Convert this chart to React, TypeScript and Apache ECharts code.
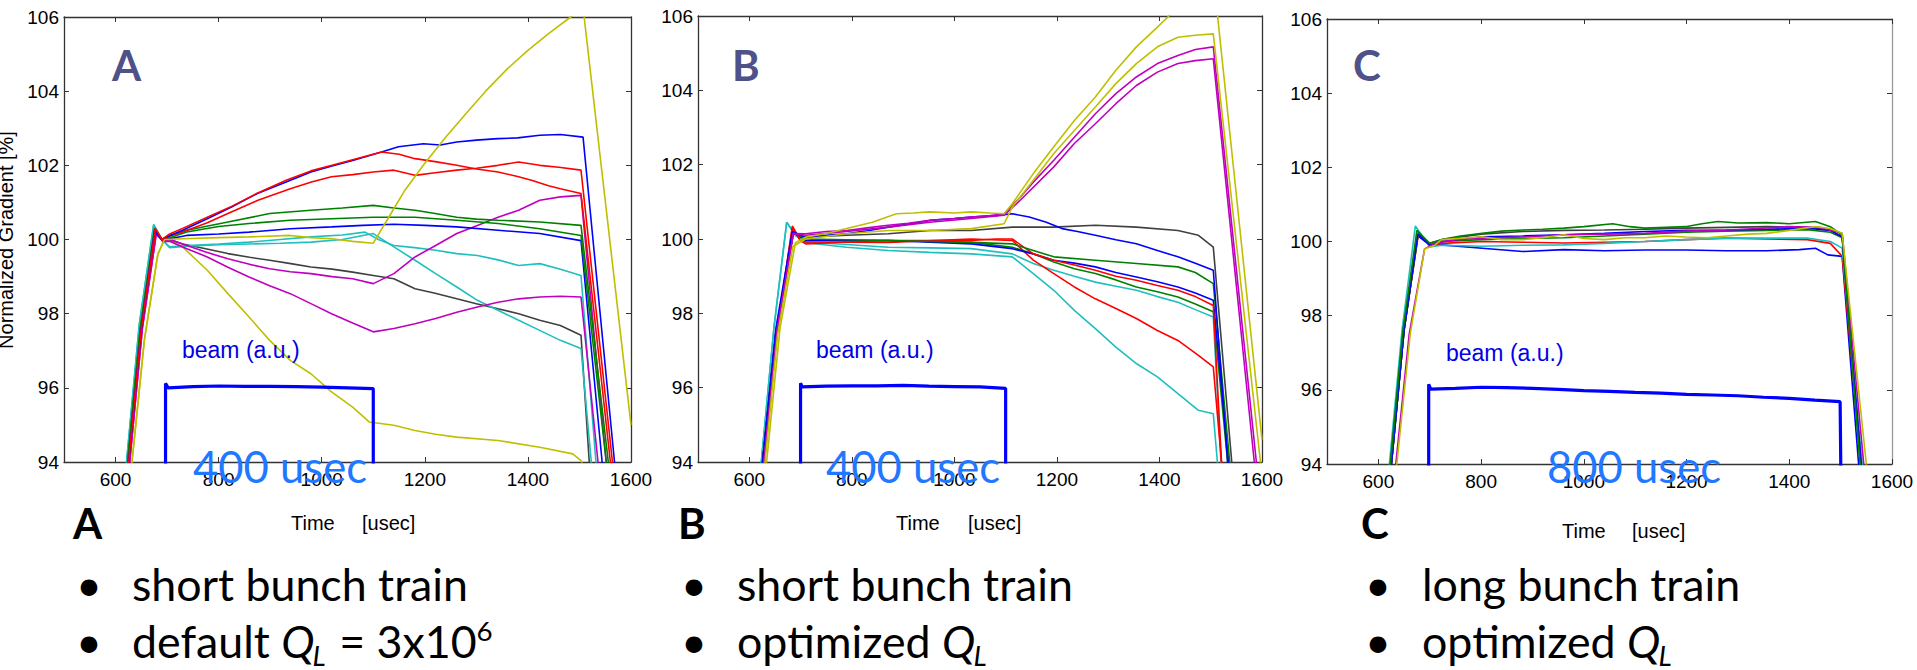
import React, { useEffect, useRef } from 'react';
import * as echarts from 'echarts';

// ---------- ticks ----------
const X_TICKS = [600, 800, 1000, 1200, 1400, 1600];
const Y_MIN = 94;
const Y_MAX = 106;

// ---------- colours ----------
const BLUE = '#0000ff';
const RED = '#ff0000';
const GREEN = '#008000';
const CYAN = '#1fbfbf';
const MAGENTA = '#bf00bf';
const YELLOW = '#bfbf00';
const GRAY = '#404040';

// ---------- panel A : short bunch train, default QL ----------
const A_blue1 = [[620,93.2],[650,97.6],[676,100.25],[690,100.0],[705,100.1],[730,100.25],[778,100.56],[826,100.88],[875,101.24],[931,101.55],[979,101.82],[1020,101.98],[1060,102.13],[1116,102.36],[1149,102.5],[1197,102.58],[1230,102.55],[1262,102.63],[1300,102.68],[1342,102.72],[1380,102.74],[1423,102.81],[1463,102.83],[1507,102.76],[1568,94],[1575,93]];
const A_red1 = [[620,93.2],[650,97.6],[677,100.3],[690,100.0],[705,100.15],[730,100.3],[778,100.6],[826,100.9],[875,101.25],[931,101.6],[979,101.85],[1020,102.0],[1060,102.15],[1116,102.36],[1150,102.3],[1181,102.18],[1220,102.1],[1262,102.0],[1300,101.9],[1342,101.82],[1380,101.7],[1407,101.6],[1440,101.45],[1463,101.37],[1503,101.24],[1560,94],[1568,93]];
const A_red2 = [[620,93.2],[650,97.6],[678,100.25],[692,99.95],[705,100.1],[730,100.2],[778,100.45],[818,100.7],[875,101.05],[939,101.37],[980,101.55],[1019,101.69],[1060,101.75],[1100,101.82],[1140,101.87],[1181,101.73],[1220,101.8],[1262,101.87],[1300,101.92],[1342,102.0],[1382,102.09],[1423,102.0],[1460,101.95],[1503,101.87],[1564,94],[1572,93]];
const A_green1 = [[618,93.2],[648,97.6],[676,100.3],[690,100.0],[705,100.1],[738,100.25],[818,100.47],[899,100.7],[979,100.79],[1040,100.85],[1100,100.92],[1140,100.85],[1181,100.79],[1220,100.7],[1262,100.6],[1300,100.55],[1342,100.52],[1423,100.47],[1503,100.38],[1556,94],[1563,93]];
const A_green2 = [[618,93.2],[648,97.6],[676,100.3],[690,100.0],[705,100.05],[738,100.2],[800,100.35],[859,100.43],[939,100.52],[1019,100.56],[1100,100.6],[1181,100.6],[1262,100.52],[1342,100.43],[1423,100.29],[1503,100.11],[1552,94],[1560,93]];
const A_blue2 = [[620,93.2],[650,97.6],[677,100.2],[690,100.0],[705,100.02],[738,100.11],[800,100.15],[859,100.2],[939,100.29],[1019,100.34],[1080,100.38],[1140,100.41],[1200,100.38],[1262,100.34],[1342,100.25],[1423,100.16],[1503,99.97],[1544,94],[1552,93]];
const A_cyan1 = [[616,93.2],[646,97.7],[674,100.4],[690,100.0],[705,99.8],[738,99.84],[800,99.88],[859,99.93],[920,100.0],[979,100.07],[1040,100.12],[1084,100.2],[1110,100.0],[1140,99.84],[1180,99.78],[1221,99.71],[1262,99.62],[1302,99.57],[1342,99.45],[1382,99.3],[1423,99.35],[1463,99.2],[1503,99.03],[1532,94],[1540,93]];
const A_cyan2 = [[616,93.2],[646,97.7],[674,100.4],[690,100.0],[705,99.78],[738,99.82],[800,99.86],[859,99.88],[920,99.9],[979,99.93],[1040,100.0],[1100,100.16],[1140,99.8],[1181,99.44],[1221,99.08],[1262,98.72],[1302,98.36],[1342,98.09],[1382,97.82],[1423,97.55],[1463,97.28],[1503,97.06],[1523,94],[1530,93]];
const A_gray = [[620,93.2],[650,97.6],[677,100.2],[690,100.0],[705,100.0],[730,99.88],[775,99.75],[818,99.62],[860,99.52],[899,99.44],[940,99.35],[979,99.26],[1020,99.2],[1060,99.12],[1100,99.03],[1140,98.94],[1181,98.67],[1220,98.55],[1262,98.4],[1300,98.27],[1342,98.13],[1382,98.0],[1423,97.82],[1463,97.68],[1503,97.42],[1519,94],[1526,93]];
const A_mag1 = [[622,93.2],[652,97.6],[679,100.15],[692,99.95],[705,100.0],[730,99.88],[775,99.66],[818,99.48],[860,99.33],[899,99.21],[939,99.13],[979,99.08],[1020,99.0],[1060,98.94],[1100,98.81],[1140,99.08],[1181,99.53],[1221,99.84],[1262,100.16],[1302,100.38],[1342,100.6],[1382,100.79],[1423,101.06],[1463,101.15],[1503,101.19],[1552,94],[1560,93]];
const A_mag2 = [[622,93.2],[652,97.6],[679,100.15],[692,99.95],[705,99.95],[730,99.8],[778,99.53],[818,99.25],[859,98.99],[899,98.75],[939,98.54],[979,98.27],[1019,98.0],[1060,97.75],[1100,97.51],[1140,97.6],[1181,97.73],[1221,97.87],[1262,98.04],[1302,98.18],[1342,98.31],[1382,98.4],[1423,98.45],[1463,98.47],[1503,98.45],[1536,94],[1543,93]];
const A_yel1 = [[626,93.2],[656,97.3],[682,99.6],[695,100.0],[730,100.02],[800,100.05],[859,100.07],[939,100.11],[979,100.05],[1019,100.02],[1060,99.95],[1100,99.9],[1130,100.6],[1160,101.3],[1197,102.0],[1240,102.75],[1280,103.4],[1318,104.0],[1360,104.6],[1400,105.1],[1440,105.55],[1483,106.0],[1507,106.25],[1600,95.0]];
const A_yel2 = [[626,93.2],[656,97.3],[682,99.6],[695,100.0],[710,99.95],[730,99.8],[778,99.17],[818,98.54],[859,97.91],[899,97.28],[939,96.74],[979,96.38],[1019,95.89],[1060,95.48],[1092,95.08],[1140,94.99],[1181,94.85],[1221,94.75],[1262,94.67],[1342,94.58],[1423,94.4],[1487,94.22],[1503,94.04],[1520,93.5]];
const A_beam = [[697,93],[697,96.12],[702,96.0],[750,96.03],[800,96.05],[850,96.04],[900,96.04],[950,96.03],[1000,96.02],[1050,96.0],[1100,95.98],[1100,93]];

// ---------- panel B : short bunch train, optimized QL ----------
const B_yel1 = [[628,93.2],[660,97.6],[690,99.9],[710,100.05],[750,100.15],[790,100.28],[840,100.45],[887,100.68],[920,100.7],[952,100.73],[1000,100.7],[1033,100.73],[1070,100.7],[1097,100.68],[1113,100.95],[1154,101.76],[1194,102.48],[1234,103.19],[1275,103.82],[1315,104.54],[1355,105.17],[1396,105.7],[1420,106.02],[1460,106.6],[1505,107.1],[1600,94.6]];
const B_yel2 = [[625,93.2],[655,97.4],[685,99.8],[710,100.0],[790,100.14],[871,100.23],[952,100.23],[1033,100.28],[1097,100.41],[1113,100.86],[1154,101.58],[1194,102.3],[1234,102.92],[1275,103.55],[1315,104.18],[1355,104.72],[1396,105.17],[1436,105.43],[1470,105.48],[1505,105.52],[1597,94.0],[1605,93]];
const B_mag1 = [[622,93.1],[655,97.6],[686,100.15],[710,100.14],[750,100.2],[790,100.23],[830,100.3],[871,100.37],[910,100.42],[952,100.5],[1000,100.55],[1033,100.59],[1070,100.63],[1097,100.68],[1129,101.13],[1154,101.53],[1194,102.12],[1234,102.74],[1275,103.37],[1315,103.91],[1355,104.36],[1396,104.72],[1436,104.94],[1470,105.1],[1505,105.17],[1589,94],[1597,93]];
const B_mag2 = [[622,93.1],[655,97.6],[686,100.15],[710,100.1],[790,100.2],[871,100.32],[952,100.45],[1033,100.55],[1097,100.64],[1129,101.05],[1194,101.94],[1234,102.57],[1275,103.1],[1315,103.64],[1355,104.13],[1396,104.49],[1436,104.72],[1470,104.8],[1505,104.85],[1585,94],[1593,93]];
const B_blue1 = [[620,93.2],[652,97.6],[684,100.2],[710,100.05],[750,100.1],[790,100.14],[830,100.22],[871,100.32],[910,100.4],[952,100.5],[1000,100.55],[1033,100.59],[1080,100.63],[1113,100.68],[1146,100.59],[1178,100.46],[1210,100.28],[1240,100.2],[1275,100.1],[1315,99.98],[1355,99.87],[1396,99.69],[1436,99.52],[1470,99.35],[1505,99.16],[1533,94],[1540,93]];
const B_gray = [[620,93.2],[652,97.5],[686,100.15],[710,100.05],[790,100.1],[871,100.14],[952,100.23],[1033,100.23],[1113,100.32],[1194,100.32],[1275,100.37],[1355,100.32],[1436,100.23],[1476,100.1],[1505,99.78],[1541,94],[1548,93]];
const B_green1 = [[620,93.2],[652,97.5],[686,100.2],[710,100.0],[871,99.96],[1033,99.91],[1113,99.87],[1154,99.69],[1194,99.52],[1275,99.43],[1355,99.34],[1436,99.25],[1470,99.1],[1505,98.8],[1537,94],[1544,93]];
const B_green2 = [[620,93.2],[652,97.5],[686,100.2],[710,99.96],[871,99.96],[1033,99.91],[1113,99.78],[1154,99.6],[1194,99.38],[1234,99.2],[1275,99.07],[1315,98.9],[1355,98.71],[1396,98.58],[1436,98.44],[1470,98.25],[1505,98.04],[1533,94],[1540,93]];
const B_blue2 = [[620,93.2],[652,97.5],[686,100.2],[710,99.96],[871,99.96],[1033,99.87],[1113,99.74],[1154,99.6],[1194,99.43],[1234,99.35],[1275,99.25],[1315,99.1],[1355,98.98],[1396,98.85],[1436,98.71],[1470,98.55],[1505,98.35],[1535,94],[1542,93]];
const B_red1 = [[622,93.1],[655,97.6],[684,100.35],[700,99.95],[710,99.87],[790,99.92],[871,99.96],[952,99.96],[1033,99.96],[1080,100.0],[1113,100.0],[1154,99.6],[1194,99.43],[1234,99.3],[1275,99.16],[1315,99.0],[1355,98.89],[1396,98.75],[1436,98.62],[1470,98.45],[1505,98.21],[1521,94],[1528,93]];
const B_red2 = [[622,93.1],[655,97.6],[684,100.3],[700,99.95],[710,99.92],[871,99.91],[1033,100.0],[1113,99.96],[1154,99.43],[1194,99.07],[1234,98.71],[1275,98.39],[1315,98.13],[1355,97.86],[1396,97.54],[1436,97.27],[1476,96.87],[1505,96.56],[1521,94],[1528,93]];
const B_cyan1 = [[618,93.2],[648,97.6],[673,100.45],[690,100.1],[710,99.92],[790,99.85],[871,99.78],[952,99.76],[1033,99.74],[1113,99.6],[1154,99.34],[1194,99.16],[1234,99.0],[1275,98.84],[1315,98.73],[1355,98.62],[1396,98.45],[1436,98.3],[1470,98.1],[1505,97.9],[1520,94],[1527,93]];
const B_cyan2 = [[618,93.2],[648,97.6],[673,100.45],[690,100.1],[710,99.9],[790,99.78],[871,99.69],[952,99.64],[1033,99.6],[1113,99.52],[1154,99.07],[1194,98.62],[1234,98.08],[1275,97.59],[1315,97.09],[1355,96.65],[1396,96.29],[1436,95.84],[1476,95.39],[1505,95.3],[1513,94],[1520,93]];
const B_beam = [[700,93],[700,96.12],[703,96.02],[750,96.04],[800,96.05],[850,96.05],[900,96.06],[950,96.04],[1000,96.03],[1050,96.02],[1100,95.98],[1100,93]];

// ---------- panel C : long bunch train, optimized QL ----------
const C_green1 = [[618,93.2],[648,97.6],[675,100.3],[700,99.95],[723,100.05],[760,100.15],[802,100.22],[840,100.28],[881,100.31],[920,100.33],[961,100.36],[1000,100.4],[1056,100.48],[1090,100.4],[1119,100.36],[1160,100.38],[1198,100.4],[1230,100.48],[1261,100.54],[1300,100.5],[1356,100.51],[1400,100.48],[1451,100.54],[1480,100.4],[1503,100.18],[1538,94],[1545,93]];
const C_gray = [[618,93.2],[648,97.6],[676,100.2],[700,99.95],[723,100.05],[800,100.2],[881,100.27],[960,100.3],[1040,100.31],[1120,100.33],[1198,100.36],[1280,100.38],[1356,100.4],[1440,100.38],[1480,100.3],[1503,100.13],[1540,94],[1547,93]];
const C_blue1 = [[620,93.2],[650,97.6],[677,100.2],[700,99.9],[723,100.0],[802,100.13],[881,100.15],[961,100.18],[1040,100.22],[1119,100.27],[1200,100.3],[1277,100.31],[1356,100.33],[1435,100.36],[1480,100.3],[1503,100.13],[1540,94],[1547,93]];
const C_mag = [[628,93.2],[660,97.5],[690,99.8],[710,99.95],[750,100.05],[802,100.09],[881,100.12],[961,100.18],[1040,100.2],[1119,100.22],[1200,100.28],[1277,100.31],[1340,100.35],[1396,100.4],[1460,100.38],[1503,100.22],[1545,94],[1552,93]];
const C_red = [[620,93.2],[650,97.6],[678,100.2],[700,99.9],[723,99.95],[802,100.0],[881,99.98],[961,99.96],[1040,99.98],[1119,100.0],[1200,100.05],[1277,100.09],[1356,100.07],[1435,100.05],[1480,99.95],[1503,99.6],[1540,94],[1547,93]];
const C_cyan = [[616,93.2],[646,97.6],[672,100.42],[700,99.85],[723,99.9],[802,99.87],[881,99.9],[961,99.91],[1040,99.95],[1119,100.0],[1200,100.05],[1277,100.09],[1356,100.09],[1435,100.09],[1480,100.0],[1503,99.82],[1542,94],[1549,93]];
const C_yel = [[630,93.2],[662,97.5],[690,99.8],[710,99.9],[723,100.05],[802,100.13],[840,100.05],[881,100.05],[920,100.1],[961,100.18],[1000,100.08],[1040,100.05],[1080,100.1],[1119,100.1],[1160,100.15],[1198,100.12],[1240,100.1],[1277,100.15],[1320,100.2],[1356,100.22],[1400,100.3],[1451,100.4],[1480,100.35],[1503,100.22],[1550,94],[1557,93]];
const C_blue2 = [[620,93.2],[650,97.6],[677,100.15],[700,99.9],[723,99.91],[802,99.82],[881,99.73],[961,99.78],[1040,99.75],[1119,99.77],[1198,99.77],[1277,99.75],[1356,99.75],[1420,99.78],[1451,99.82],[1475,99.64],[1503,99.6],[1535,94],[1542,93]];
const C_green2 = [[620,93.2],[650,97.6],[678,100.25],[700,99.9],[723,100.0],[802,100.05],[881,100.08],[961,100.1],[1040,100.15],[1119,100.2],[1200,100.25],[1277,100.28],[1356,100.3],[1435,100.32],[1480,100.25],[1503,100.1],[1538,94],[1545,93]];
const C_beam = [[698,93],[698,96.15],[702,96.02],[750,96.04],[800,96.07],[850,96.06],[900,96.04],[950,96.01],[1000,95.98],[1050,95.96],[1100,95.93],[1150,95.91],[1200,95.88],[1250,95.86],[1300,95.84],[1350,95.8],[1400,95.77],[1450,95.72],[1499,95.68],[1501,93]];

const PANEL_A = [
  [A_yel2, YELLOW], [A_gray, GRAY], [A_cyan2, CYAN], [A_cyan1, CYAN], [A_mag2, MAGENTA], [A_mag1, MAGENTA],
  [A_blue2, BLUE], [A_green2, GREEN], [A_green1, GREEN], [A_red2, RED], [A_blue1, BLUE], [A_red1, RED], [A_yel1, YELLOW],
];
const PANEL_B = [
  [B_cyan2, CYAN], [B_cyan1, CYAN], [B_red2, RED], [B_green2, GREEN], [B_blue2, BLUE], [B_red1, RED], [B_green1, GREEN],
  [B_gray, GRAY], [B_blue1, BLUE], [B_mag2, MAGENTA], [B_mag1, MAGENTA], [B_yel2, YELLOW], [B_yel1, YELLOW],
];
const PANEL_C = [
  [C_blue2, BLUE], [C_red, RED], [C_cyan, CYAN], [C_green2, GREEN], [C_gray, GRAY], [C_blue1, BLUE],
  [C_mag, MAGENTA], [C_green1, GREEN], [C_yel, YELLOW],
];
const BEAMS = [A_beam, B_beam, C_beam];
const PANELS = [PANEL_A, PANEL_B, PANEL_C];

const PANEL_LETTERS = ['A', 'B', 'C'];
const PULSE_LABELS = ['400 usec', '400 usec', '800 usec'];
const BULLET_1 = ['short bunch train', 'short bunch train', 'long bunch train'];

const GRIDS = [
  { left: 64, top: 17, width: 567, height: 445 },
  { left: 698, top: 16, width: 564, height: 446 },
  { left: 1327, top: 19, width: 565, height: 445 },
];

const AXIS_FONT = '"Liberation Sans", Arial, sans-serif';
const CAL_FONT = 'Lato, "Open Sans", sans-serif';

export default function App() {
  const ref = useRef<HTMLDivElement>(null);
  useEffect(() => {
    document.body.style.margin = '0';
    if (!ref.current) return;
    const chart = echarts.init(ref.current, undefined, { renderer: 'svg' });

    const cv = document.createElement('canvas').getContext('2d') as CanvasRenderingContext2D;
    const measure = (t: string, font: string) => { cv.font = font; return cv.measureText(t).width; };

    const bulletFs = 44 * 336 / measure('short bunch train', '44px Lato');
    const pulseFs = 44 * 174 / measure('400 usec', '44px Lato');

    const xAxis: any[] = [];
    const yAxis: any[] = [];
    GRIDS.forEach((g, i) => {
      const frame = { show: true, onZero: false, lineStyle: { color: '#333', width: 1.3 } };
      const frameR = { show: true, onZero: false, lineStyle: { color: i === 2 ? '#999' : '#333', width: 1.3 } };
      xAxis.push({
        type: 'value', gridIndex: i, position: 'bottom', min: 500, max: 1600,
        axisLine: frame,
        axisTick: { inside: true, length: 5, customValues: X_TICKS, lineStyle: { color: '#333' } },
        axisLabel: { customValues: X_TICKS, fontSize: 19, color: '#000', fontFamily: AXIS_FONT, margin: 8, formatter: (v: number) => String(v) },
        splitLine: { show: false },
      });
      xAxis.push({
        type: 'value', gridIndex: i, position: 'top', min: 500, max: 1600,
        axisLine: frame,
        axisTick: { inside: true, length: 5, customValues: X_TICKS, lineStyle: { color: '#333' } },
        axisLabel: { show: false },
        splitLine: { show: false },
      });
      yAxis.push({
        type: 'value', gridIndex: i, position: 'left', min: Y_MIN, max: Y_MAX, interval: 2,
        axisLine: frame,
        axisTick: { inside: true, length: 5, lineStyle: { color: '#333' } },
        axisLabel: { fontSize: 19, color: '#000', fontFamily: AXIS_FONT, margin: 5, showMinLabel: true, showMaxLabel: true, formatter: (v: number) => String(v) },
        splitLine: { show: false },
      });
      yAxis.push({
        type: 'value', gridIndex: i, position: 'right', min: Y_MIN, max: Y_MAX, interval: 2,
        axisLine: frameR,
        axisTick: { inside: true, length: 5, lineStyle: { color: '#333' } },
        axisLabel: { show: false },
        splitLine: { show: false },
      });
    });

    const series: any[] = [];
    PANELS.forEach((panel, i) => {
      panel.forEach(([data, color]: any, k: number) => {
        series.push({
          type: 'line', xAxisIndex: 2 * i, yAxisIndex: 2 * i, data, showSymbol: false, symbol: 'none',
          clip: true, silent: true, z: 2 + k * 0.01,
          lineStyle: { color, width: 1.6 },
        });
      });
      series.push({
        type: 'line', xAxisIndex: 2 * i, yAxisIndex: 2 * i, data: BEAMS[i], showSymbol: false, symbol: 'none',
        clip: true, silent: true, z: 3,
        lineStyle: { color: BLUE, width: 3.2 },
      });
    });

    const T = (x: number, y: number, text: string, fs: number, extra: any = {}) => ({
      type: 'text', x, y, z: 100, silent: true,
      style: {
        text, fontSize: fs, fontFamily: extra.fontFamily || CAL_FONT, fill: extra.fill || '#000',
        fontWeight: extra.fontWeight || 'normal', fontStyle: extra.fontStyle || 'normal',
        align: extra.align || 'left', verticalAlign: 'middle',
      },
      rotation: extra.rotation || 0,
    });

    const graphics: any[] = [];
    // y-axis name
    graphics.push(T(6, 240, 'Normalized Gradient [%]', 20, { fontFamily: AXIS_FONT, align: 'center', rotation: Math.PI / 2 }));

    const letterX = [112, 732, 1353];
    const beamX = [182, 816, 1446];
    const beamY = [350, 350, 353];
    const pulseX = [193, 826, 1547];
    const bigLetterX = [73, 678, 1361];
    const timeX = [291, 896, 1562];
    const unitX = [362, 968, 1632];
    const timeY = [523, 523, 531];
    const bulletX = [76, 681, 1365];
    const textX = [132, 737, 1422];
    const base1 = 600;
    const base2 = 657;
    const mid = (b: number, fs: number) => b - 0.36 * fs;

    for (let i = 0; i < 3; i++) {
      graphics.push(T(letterX[i], mid(80, 42), PANEL_LETTERS[i], 42, { fontWeight: 'bold', fill: '#4f5189' }));
      graphics.push(T(beamX[i], beamY[i], 'beam (a.u.)', 23, { fontFamily: AXIS_FONT, fill: '#0000e6' }));
      graphics.push(T(pulseX[i], mid(482, pulseFs), PULSE_LABELS[i], pulseFs, { fill: '#1f78ff' }));
      graphics.push(T(bigLetterX[i], mid(538, 42), PANEL_LETTERS[i], 42, { fontWeight: 'bold' }));
      graphics.push(T(timeX[i], timeY[i], 'Time', 20, { fontFamily: AXIS_FONT }));
      graphics.push(T(unitX[i], timeY[i], '[usec]', 20, { fontFamily: AXIS_FONT }));
      graphics.push(T(bulletX[i], mid(base1, bulletFs), '•', bulletFs));
      graphics.push(T(bulletX[i], mid(base2, bulletFs), '•', bulletFs));
      graphics.push(T(textX[i], mid(base1, bulletFs), BULLET_1[i], bulletFs));
    }

    // second bullet lines with italic Q and subscript L
    const fsN = bulletFs;
    const fsS = bulletFs * 0.62;
    const fontN = `${fsN}px Lato`;
    const fontI = `italic ${fsN}px Lato`;
    const fontS = `italic ${fsS}px Lato`;
    const line2 = (x0: number, pre: string, post: string, sup: string) => {
      let x = x0;
      graphics.push(T(x, mid(base2, fsN), pre, fsN));
      x += measure(pre, fontN);
      graphics.push(T(x, mid(base2, fsN), 'Q', fsN, { fontStyle: 'italic' }));
      x += measure('Q', fontI);
      graphics.push(T(x - 2, mid(base2 + 8, fsS), 'L', fsS, { fontStyle: 'italic' }));
      x += measure('L', fontS);
      if (post) {
        graphics.push(T(x, mid(base2, fsN), post, fsN));
        x += measure(post, fontN);
        graphics.push(T(x, mid(base2 - 0.36 * fsN, fsS), sup, fsS));
      }
    };
    line2(textX[0], 'default ', ' = 3x10', '6');
    line2(textX[1], 'optimized ', '', '');
    line2(textX[2], 'optimized ', '', '');

    chart.setOption({
      animation: false,
      backgroundColor: '#ffffff',
      grid: GRIDS.map((g) => ({ ...g, containLabel: false })),
      xAxis,
      yAxis,
      series,
      graphic: graphics,
    });
    return () => chart.dispose();
  }, []);
  return <div ref={ref} style={{ width: 1917, height: 670 }} />;
}
